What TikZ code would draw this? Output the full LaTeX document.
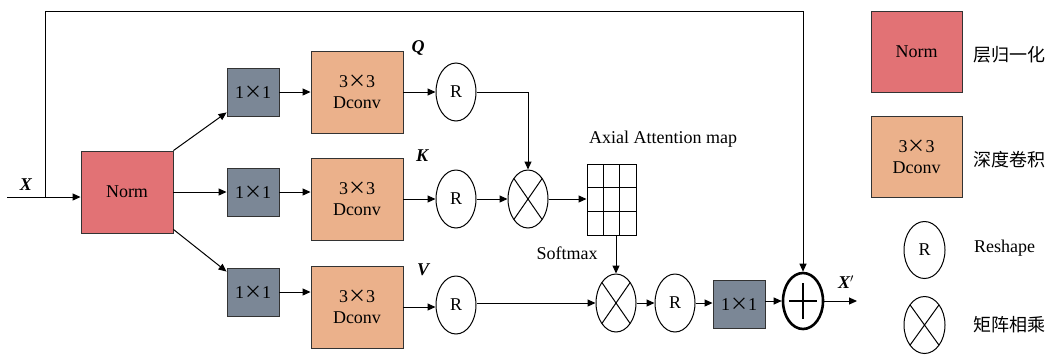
\documentclass[tikz,border=0pt]{standalone}
\usepackage{fontspec}
\setmainfont{Liberation Serif}
\newfontfamily\tnr{Liberation Serif}
\newfontfamily\cjk{Noto Sans CJK SC}
\usetikzlibrary{shapes.geometric,arrows.meta,calc}

\definecolor{normred}{HTML}{E27275}
\definecolor{dconvtan}{HTML}{EBB18B}
\definecolor{convgray}{HTML}{7B8796}
\newcommand{\cross}{{\cjk ×}}

\tikzset{
  txt/.style={font=\tnr\fontsize{18}{21}\selectfont},
  lbl/.style={font=\tnr\fontsize{18}{21}\selectfont\bfseries\itshape},
  box/.style={txt, draw=black!80, line width=0.9pt, align=center, inner sep=0pt},
  normbox/.style={box, fill=normred, minimum width=92pt, minimum height=82pt},
  dconvbox/.style={box, fill=dconvtan, minimum width=92pt, minimum height=82pt},
  pwbox/.style={box, fill=convgray, minimum width=52pt, minimum height=48pt},
  reshape/.style={txt, ellipse, draw=black, line width=1pt, inner sep=0pt,
    minimum width=40pt, minimum height=58pt},
  matmul/.style={ellipse, draw=black, line width=1pt, inner sep=0pt,
    minimum width=40pt, minimum height=58pt,
    path picture={
      \draw[line width=1pt] (path picture bounding box.north west) -- (path picture bounding box.south east)
                            (path picture bounding box.north east) -- (path picture bounding box.south west);}},
  addnode/.style={ellipse, draw=black, line width=2.6pt, inner sep=0pt,
    minimum width=40pt, minimum height=56pt,
    path picture={
      \draw[line width=2.6pt] ($(path picture bounding box.center)+(-14,0)$) -- ($(path picture bounding box.center)+(14,0)$)
                              ($(path picture bounding box.center)+(0,-18)$) -- ($(path picture bounding box.center)+(0,18)$);}},
  conn/.style={line width=1pt, -{Triangle[length=8pt,width=7pt]}},
}

\begin{document}
\begin{tikzpicture}[x=1pt, y=-1pt]
\useasboundingbox (0,0) rectangle (1051,354);

% main blocks
\node[normbox] (norm) at (127,192) {Norm};
\node[pwbox] (pwq) at (253,92) {1\cross1};
\node[pwbox] (pwk) at (253,192) {1\cross1};
\node[pwbox] (pwv) at (253,292) {1\cross1};
\node[dconvbox] (dcq) at (357,92) {3\cross3\\Dconv};
\node[dconvbox] (dck) at (357,199) {3\cross3\\Dconv};
\node[dconvbox] (dcv) at (357,307) {3\cross3\\Dconv};
\node[reshape] (rq) at (456,92) {R};
\node[reshape] (rk) at (456,199) {R};
\node[reshape] (rv) at (456,305) {R};
\node[matmul] (mqk) at (528,199) {};
\node[draw=black, line width=1pt, minimum width=49pt, minimum height=71pt, inner sep=0pt,
  path picture={
    \foreach \i in {1,2} {
      \draw[line width=1pt] ($(path picture bounding box.north west)!\i/3!(path picture bounding box.north east)$) --
                            ($(path picture bounding box.south west)!\i/3!(path picture bounding box.south east)$);
      \draw[line width=1pt] ($(path picture bounding box.north west)!\i/3!(path picture bounding box.south west)$) --
                            ($(path picture bounding box.north east)!\i/3!(path picture bounding box.south east)$);}
  }] (amap) at (611.5,199.5) {};
\node[matmul] (mav) at (616,303) {};
\node[reshape] (ro) at (675,303) {R};
\node[pwbox] (pwo) at (739,304) {1\cross1};
\node[addnode] (add) at (803,301) {};

% labels
\node[lbl] (lx) at (26,185) {X};
\node[lbl] (lq) at (418,48) {Q};
\node[lbl] (lk) at (422,156) {K};
\node[lbl] (lv) at (423,270) {V};
\node[lbl] (lxo) at (846,282) {X$'$};
\node[txt] (tmap) at (663,139) {Axial Attention map};
\node[txt] (tsoft) at (567,253) {Softmax};

% connectors
\coordinate (xin) at (7,197);
\coordinate (skip) at (45,197);
\coordinate (xout) at (857,301);
\draw[conn] (xin) -- (xin -| norm.west);
\draw[conn] (skip) -- (45,11) -| (add.north);
\draw[conn] (norm.north east) -- ($(pwq.south west)+(0,-4)$);
\draw[conn] (norm.east) -- (pwk.west);
\draw[conn] ($(norm.south east)+(0,-4)$) -- ($(pwv.north west)+(0,4)$);
\draw[conn] (pwq.east) -- (pwq.east -| dcq.west);
\draw[conn] (pwk.east) -- (pwk.east -| dck.west);
\draw[conn] (pwv.east) -- (pwv.east -| dcv.west);
\draw[conn] (dcq.east) -- (rq.west);
\draw[conn] (dck.east) -- (rk.west);
\draw[conn] (dcv.east) -- (dcv.east -| rv.west);
\draw[conn] (rq.east) -| (mqk.north);
\draw[conn] (rk.east) -- (mqk.west);
\draw[conn] (mqk.east) -- (amap.west |- mqk.east);
\draw[conn] (mav.north |- amap.south) -- (mav.north);
\draw[conn] (rv.east |- mav.west) -- (mav.west);
\draw[conn] (mav.east) -- (ro.west);
\draw[conn] (ro.east) -- (pwo.west |- ro.east);
\draw[conn] (pwo.east |- add.west) -- (add.west);
\draw[conn] (add.east) -- (xout);

% legend
\node[normbox, minimum width=91pt, minimum height=81pt] (knorm) at (916.5,51.5) {Norm};
\node[dconvbox, minimum width=91pt, minimum height=81pt] (kdconv) at (916.5,157) {3\cross3\\Dconv};
\node[reshape, minimum width=41pt, minimum height=57pt] (kr) at (924.5,250) {R};
\node[matmul, minimum width=41pt, minimum height=57pt] (km) at (924.5,325) {};
\node[txt, anchor=west, inner sep=0pt] (knormt) at (973,55) {\cjk 层归一化};
\node[txt, anchor=west, inner sep=0pt] (kdconvt) at (973,160) {\cjk 深度卷积};
\node[txt, anchor=west, inner sep=0pt] (krt) at (974,248) {Reshape};
\node[txt, anchor=west, inner sep=0pt] (kmt) at (973,325) {\cjk 矩阵相乘};
\end{tikzpicture}
\end{document}
